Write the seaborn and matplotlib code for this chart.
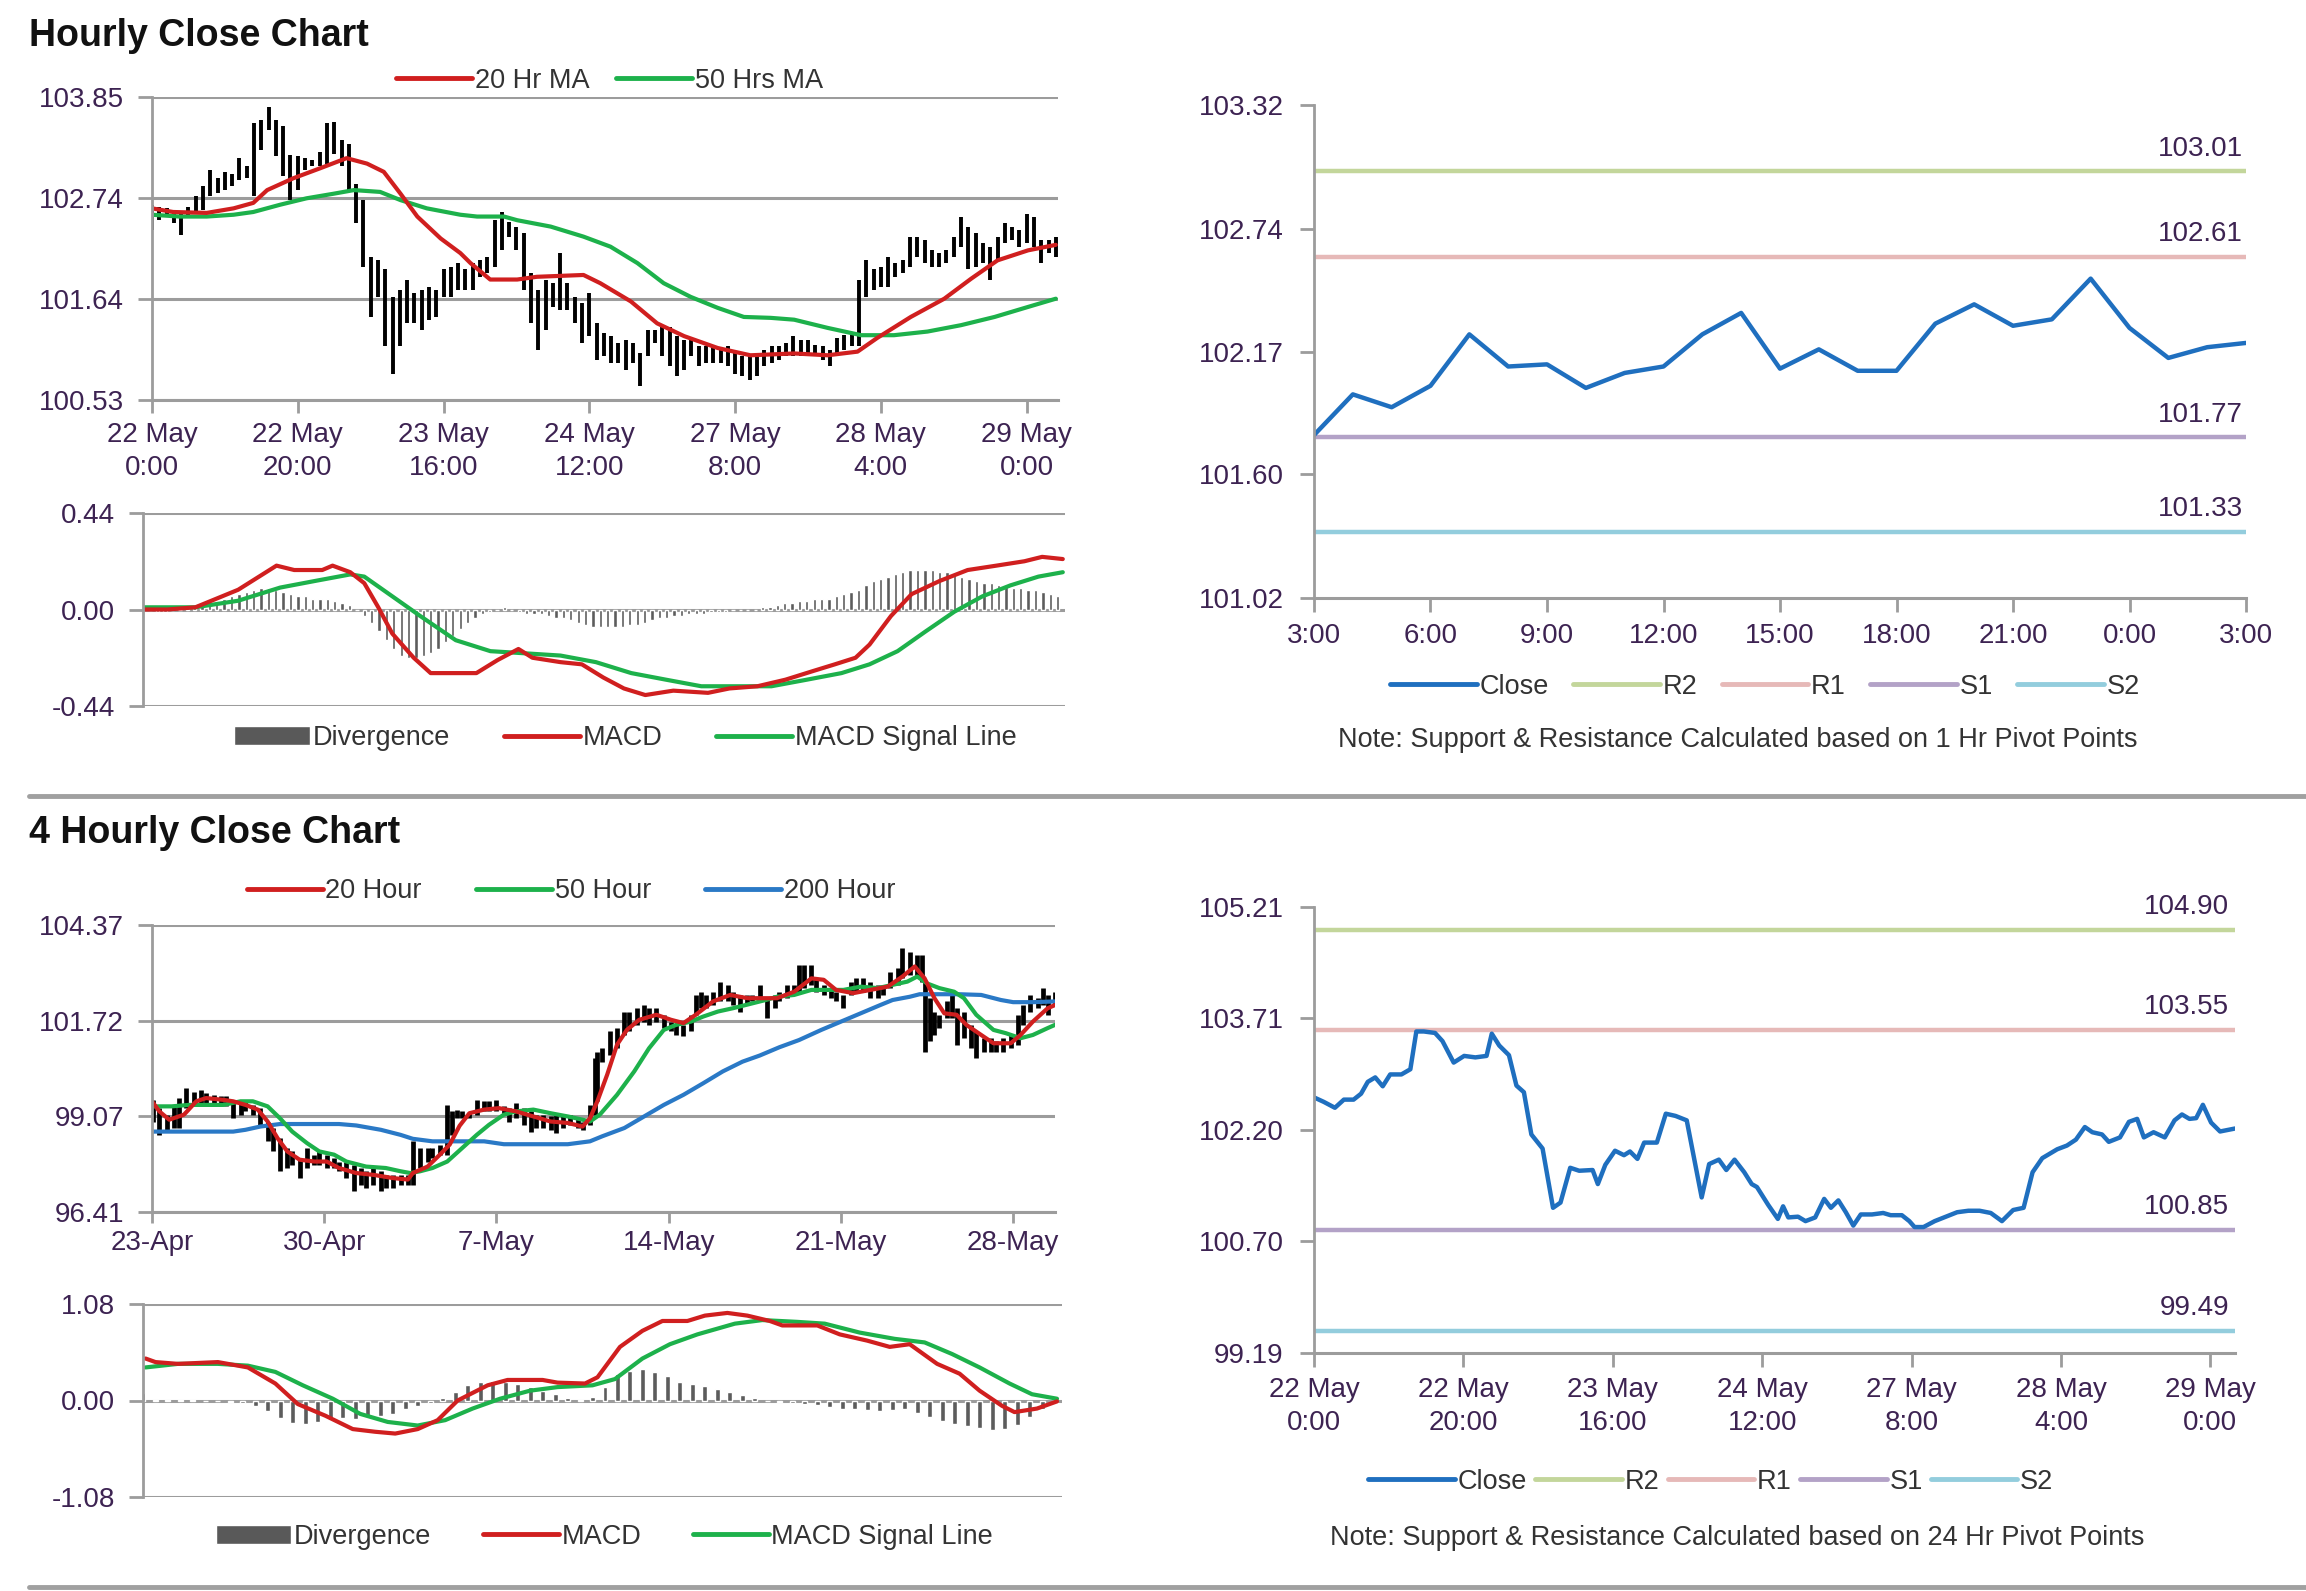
import numpy as np
import pandas as pd
import matplotlib
matplotlib.use('Agg')
import matplotlib.pyplot as plt
import seaborn as sns
from matplotlib.lines import Line2D
from matplotlib.patches import Patch

# ---------------- DATA ----------------
# Hourly chart (x = trading hour index from 22 May 0:00)
h_high = [102.67,102.65,102.63,102.61,102.58,102.65,102.76,102.87,103.05,102.96,
          103.03,103.01,103.18,103.09,103.56,103.60,103.74,103.60,103.53,103.21,
          103.20,103.18,103.16,103.25,103.56,103.58,103.38,103.34,102.90,102.72,
          102.10,102.06,101.96,101.66,101.74,101.85,101.70,101.74,101.77,101.74,
          101.96,101.99,102.03,101.96,102.03,102.06,102.10,102.50,102.59,102.48,
          102.43,102.36,101.92,101.74,101.85,101.81,102.14,101.81,101.66,101.59,
          101.70,101.37,101.26,101.23,101.15,101.19,101.15,101.04,101.30,101.30,
          101.33,101.33,101.23,101.19,101.19,101.12,101.12,101.12,101.08,101.12,
          101.04,101.01,101.01,101.04,101.08,101.12,101.12,101.15,101.23,101.19,
          101.19,101.13,101.12,101.08,101.21,101.24,101.26,101.85,102.06,101.96,
          101.99,102.10,102.03,102.06,102.32,102.32,102.28,102.17,102.14,102.17,
          102.32,102.54,102.43,102.36,102.25,102.21,102.32,102.47,102.43,102.39,
          102.57,102.54,102.28,102.28,102.32]
h_low = [102.39,102.50,102.56,102.47,102.34,102.56,102.59,102.61,102.76,102.80,
         102.83,102.87,102.94,102.96,102.76,103.27,103.49,103.20,102.98,102.72,
         102.83,103.05,103.09,103.09,103.12,103.23,103.09,102.83,102.47,101.99,
         101.44,101.66,101.12,100.82,101.12,101.37,101.37,101.30,101.41,101.44,
         101.66,101.66,101.74,101.74,101.74,101.88,101.92,101.99,102.17,102.32,
         102.17,101.74,101.37,101.08,101.30,101.55,101.52,101.52,101.37,101.15,
         101.23,100.97,101.01,100.93,100.93,100.86,100.93,100.68,101.01,101.15,
         101.01,100.90,100.79,100.86,101.01,100.90,100.93,100.93,100.93,100.90,
         100.82,100.79,100.75,100.79,100.90,100.93,100.97,101.01,101.01,101.01,
         101.01,101.01,100.97,100.90,101.01,101.08,101.12,101.12,101.66,101.74,
         101.77,101.77,101.88,101.92,101.99,102.10,102.03,101.99,101.99,102.03,
         102.10,102.21,101.96,101.99,102.03,101.85,102.06,102.25,102.28,102.21,
         102.25,102.21,102.03,102.14,102.10]

ma20_h_x = [0,2.9,7.5,11.2,13.9,15.8,19.4,23.1,26.7,29.5,31.8,34.1,36.4,39.6,42.3,43.7,46.4,50.1,
            52.8,59.2,61.5,65.7,69.3,73,77.6,82.1,88.1,92.7,96.8,99.5,104.1,108.7,112.4,116,120.2,124]
ma20_h_y = [102.63,102.59,102.58,102.63,102.69,102.83,102.96,103.07,103.18,103.12,103.03,102.79,
            102.54,102.30,102.14,102.03,101.85,101.85,101.88,101.90,101.81,101.61,101.37,101.23,
            101.10,101.02,101.04,101.02,101.06,101.21,101.44,101.64,101.86,102.06,102.17,102.23]
ma50_h_x = [0,3.8,7.5,11.2,13.9,17.6,21.2,24.9,27.7,31.3,34.1,37.7,42.3,44.6,48.3,50.1,54.7,59.2,
            62.9,66.6,70.2,73.9,77.6,81.2,84.9,88.1,92.7,97.3,101.8,106.4,111,115.6,120.2,124]
ma50_h_y = [102.56,102.54,102.54,102.56,102.59,102.67,102.74,102.79,102.83,102.81,102.72,102.63,
            102.56,102.54,102.54,102.50,102.43,102.32,102.21,102.03,101.81,101.66,101.54,101.44,
            101.43,101.41,101.32,101.24,101.24,101.28,101.35,101.44,101.55,101.64]

macd_h_x = [0,3.3,7.1,12.9,18.1,20.5,24.3,25.7,28.1,30,31.9,33.8,36.7,39,45.2,48.1,50.9,52.8,56.6,
            59.5,62.4,65.2,68.1,71.9,76.6,79.5,83.3,87.1,90.9,93.8,96.6,98.5,101.4,104.2,108,111.8,
            115.7,119.5,121.9,124.7]
macd_h_y = [0.00,0.00,0.01,0.09,0.20,0.18,0.18,0.20,0.17,0.12,0.01,-0.11,-0.22,-0.29,-0.29,-0.23,
            -0.18,-0.22,-0.24,-0.25,-0.31,-0.36,-0.39,-0.37,-0.38,-0.36,-0.35,-0.32,-0.28,-0.25,-0.22,
            -0.16,-0.03,0.07,0.13,0.18,0.20,0.22,0.24,0.23]
sig_h_x = [0,3.3,7.1,12.9,18.6,23.3,28.1,30,33.8,37.6,42.4,47.1,51.9,56.6,61.4,66.2,70.9,75.7,81.4,
           85.2,90,94.7,98.5,102.3,106.1,110,113.8,117.6,121.4,124.7]
sig_h_y = [0.01,0.01,0.01,0.04,0.10,0.13,0.16,0.15,0.06,-0.03,-0.14,-0.19,-0.20,-0.21,-0.24,-0.29,
           -0.32,-0.35,-0.35,-0.35,-0.32,-0.29,-0.25,-0.19,-0.10,-0.01,0.06,0.11,0.15,0.17]
div_h = [0.00,0.00,-0.01,-0.01,0.00,0.00,0.01,0.01,0.02,0.03,0.04,
         0.05,0.06,0.07,0.08,0.09,0.10,0.10,0.09,0.08,0.07,
         0.06,0.06,0.05,0.05,0.05,0.04,0.03,0.02,0.00,-0.03,
         -0.06,-0.10,-0.14,-0.18,-0.21,-0.22,-0.22,-0.21,-0.20,-0.18,
         -0.15,-0.12,-0.09,-0.06,-0.04,-0.02,-0.01,0.00,0.01,0.00,
         -0.01,-0.02,-0.02,-0.02,-0.03,-0.04,-0.04,-0.05,-0.06,-0.07,
         -0.08,-0.08,-0.08,-0.08,-0.08,-0.07,-0.07,-0.06,-0.05,-0.04,
         -0.04,-0.03,-0.03,-0.02,-0.02,-0.02,-0.01,-0.01,-0.01,0.00,
         0.00,0.00,0.00,0.01,0.01,0.02,0.03,0.03,0.04,0.04,
         0.05,0.05,0.05,0.06,0.07,0.08,0.09,0.11,0.13,0.14,
         0.15,0.16,0.17,0.18,0.18,0.18,0.18,0.17,0.17,0.16,
         0.15,0.14,0.13,0.12,0.12,0.11,0.11,0.10,0.10,0.09,
         0.09,0.08,0.07,0.06]

h_ticks = [0, 20, 40, 60, 80, 100, 120]
h_ticklabels = ['22 May\n0:00', '22 May\n20:00', '23 May\n16:00', '24 May\n12:00',
                '27 May\n8:00', '28 May\n4:00', '29 May\n0:00']

# Right-top: hourly close with 1 Hr pivots
r1_close = [101.78,101.97,101.91,102.01,102.25,102.10,102.11,102.00,102.07,102.10,102.25,102.35,
            102.09,102.18,102.08,102.08,102.30,102.39,102.29,102.32,102.51,102.28,102.14,102.19,102.21]
r1_tick_labels = ['3:00','6:00','9:00','12:00','15:00','18:00','21:00','0:00','3:00']
r1_levels = {'R2': 103.01, 'R1': 102.61, 'S1': 101.77, 'S2': 101.33}

# Right-bottom: close with 24 Hr pivots (hours from 22 May 0:00)
r2_hours = [0,1.3,2.8,4.0,5.3,6.3,7.2,8.2,9.2,10.2,11.7,12.9,13.7,14.7,16.2,17.2,18.7,20.1,21.6,23.1,
            23.8,24.8,26.1,27.1,28.1,29.1,30.6,32.0,33.0,34.3,35.5,37.3,38.0,39.0,40.3,41.5,42.3,43.3,
            44.2,45.9,47.1,48.4,49.9,51.9,52.9,54.2,55.2,56.3,57.6,58.6,59.3,60.8,62.1,62.8,63.5,64.8,
            65.8,67.1,68.3,69.2,70.2,71.2,72.2,73.2,74.7,76.2,77.2,78.7,79.7,80.4,81.6,83.1,84.6,86.1,
            87.6,89.1,90.6,92.1,93.6,95.0,96.2,97.5,98.5,99.5,100.8,102.0,103.2,104.2,105.5,106.4,
            107.9,109.1,110.2,111.1,112.4,113.9,115.2,116.2,117.2,118.1,119.0,120.1,121.3,123.3]
r2_close = [102.64,102.58,102.50,102.61,102.61,102.69,102.85,102.91,102.79,102.95,102.95,103.02,
            103.53,103.53,103.51,103.40,103.11,103.20,103.18,103.20,103.50,103.34,103.21,102.80,
            102.71,102.14,101.95,101.15,101.22,101.69,101.65,101.66,101.47,101.73,101.92,101.86,
            101.91,101.81,102.03,102.03,102.42,102.39,102.33,101.29,101.74,101.80,101.66,101.80,
            101.63,101.47,101.43,101.19,101.00,101.17,101.02,101.03,100.97,101.02,101.27,101.15,
            101.25,101.09,100.91,101.06,101.06,101.08,101.05,101.05,100.97,100.89,100.89,100.97,
            101.03,101.09,101.11,101.11,101.08,100.97,101.12,101.15,101.63,101.82,101.88,101.94,
            101.99,102.07,102.24,102.17,102.14,102.04,102.10,102.31,102.35,102.10,102.17,102.10,
            102.33,102.41,102.35,102.36,102.54,102.30,102.18,102.22]
r2_levels = {'R2': 104.90, 'R1': 103.55, 'S1': 100.85, 'S2': 99.49}

# 4 Hourly chart (x = days from 23-Apr)
f_days = [0.05,0.3,0.6,0.9,1.1,1.4,1.7,2.0,2.2,2.5,2.8,3.0,3.3,3.6,3.8,4.1,4.4,4.7,4.9,5.2,5.5,5.7,
          6.0,6.3,6.6,6.8,7.1,7.4,7.6,7.9,8.2,8.5,8.7,9.0,9.3,9.5,9.8,10.1,10.4,10.6,10.9,11.2,11.4,
          11.7,12.0,12.2,12.4,12.6,12.9,13.2,13.5,13.7,14.0,14.3,14.5,14.8,15.1,15.4,15.6,15.9,16.2,
          16.4,16.7,17.0,17.3,17.5,17.8,18.0,18.1,18.3,18.6,18.9,19.2,19.4,19.7,20.0,20.2,20.5,20.8,
          21.1,21.3,21.6,21.9,22.1,22.3,22.5,22.8,23.1,23.4,23.6,23.9,24.2,24.4,24.7,25.0,25.3,25.5,
          25.8,26.1,26.3,26.5,26.8,27.0,27.3,27.6,27.8,28.1,28.4,28.6,28.9,29.2,29.5,29.7,30.0,30.3,
          30.5,30.8,31.1,31.3,31.4,31.6,31.8,32.0,32.3,32.5,32.7,33.0,33.3,33.5,33.8,34.1,34.3,34.6,
          34.9,35.2,35.4,35.7,36.0,36.2,36.4,36.7]
f_high = [99.52,99.29,99.11,99.38,99.57,99.84,99.75,99.80,99.71,99.66,99.62,99.62,99.43,99.48,99.52,
          99.38,99.29,98.92,98.74,98.46,98.18,98.09,97.91,98.18,98.00,98.09,98.00,97.91,97.81,97.81,
          97.72,97.63,97.54,97.63,97.54,97.44,97.44,97.44,97.44,98.37,98.18,98.18,98.18,98.28,99.38,
          99.20,99.25,99.20,99.15,99.52,99.48,99.48,99.52,99.34,99.29,99.43,99.29,99.20,99.11,99.11,
          99.06,99.11,99.11,99.11,99.01,98.92,99.38,100.68,100.86,100.95,101.42,101.51,101.97,101.97,
          102.06,102.15,102.06,102.06,101.88,101.69,101.60,101.60,101.88,102.43,102.52,102.43,102.52,
          102.80,102.71,102.52,102.43,102.43,102.43,102.71,102.34,102.43,102.52,102.71,102.71,103.26,
          103.26,103.26,102.89,102.71,102.61,102.52,102.43,102.80,102.89,102.89,102.80,102.71,102.71,
          103.08,103.17,103.72,103.63,103.54,103.54,102.80,102.34,101.97,101.88,102.25,102.43,102.06,
          101.97,101.60,101.42,101.23,101.23,101.14,101.23,101.32,101.88,102.15,102.43,102.34,102.61,
          102.43,102.52]
f_low = [98.92,98.55,98.64,98.74,98.74,99.29,99.38,99.43,99.38,99.38,99.38,99.34,99.01,99.11,99.20,
         99.11,98.83,98.37,98.09,97.54,97.63,97.72,97.35,97.63,97.72,97.72,97.63,97.63,97.54,97.35,
         96.98,97.17,97.08,97.17,96.98,97.08,97.08,97.17,97.17,97.17,97.63,97.81,97.91,98.00,98.00,
         98.55,99.01,99.01,99.01,99.11,99.20,99.20,99.20,99.11,98.92,99.01,98.83,98.64,98.74,98.74,
         98.69,98.60,98.74,98.83,98.74,98.69,98.83,99.11,99.48,100.58,100.77,100.95,101.32,101.42,
         101.60,101.69,101.60,101.69,101.51,101.42,101.32,101.28,101.42,101.88,102.06,102.06,102.15,
         102.25,102.25,102.15,101.97,102.15,102.25,102.25,101.80,102.06,102.25,102.34,102.43,102.52,
         102.61,102.71,102.52,102.43,102.34,102.25,102.06,102.43,102.52,102.52,102.34,102.34,102.43,
         102.61,102.71,102.89,102.98,102.89,102.80,100.86,101.14,101.32,101.51,101.78,101.78,101.05,
         101.23,100.95,100.68,100.86,100.86,100.86,100.86,100.95,101.05,101.60,101.97,102.06,102.15,
         101.88,102.15]

ma20_f_x = [0,0.3,0.7,1.3,1.8,2.2,2.9,3.3,3.8,4.3,4.7,5.1,5.5,6.0,6.6,7.1,7.6,8.3,9.0,9.8,10.4,10.6,
            11.2,11.7,12.1,12.5,12.9,13.5,14.1,14.8,15.5,16.2,16.9,17.5,17.8,18.1,18.5,18.9,19.3,19.8,
            20.5,21.1,21.6,22.1,22.8,23.5,24.2,24.8,25.4,26.1,26.8,27.3,27.8,28.5,29.2,29.9,30.5,31.0,
            31.4,31.8,32.2,32.7,33.1,33.7,34.2,34.9,35.3,35.8,36.4,36.7]
ma20_f_y = [99.48,99.20,98.97,99.11,99.48,99.57,99.52,99.48,99.38,99.25,98.92,98.46,98.09,97.86,97.81,
            97.81,97.63,97.49,97.44,97.35,97.31,97.49,97.67,98.00,98.28,98.80,99.15,99.25,99.29,99.20,
            99.06,98.92,98.88,98.78,99.01,99.48,100.22,101.05,101.46,101.74,101.88,101.74,101.65,
            101.88,102.25,102.43,102.34,102.34,102.34,102.52,102.89,102.85,102.57,102.48,102.57,102.66,
            102.94,103.22,102.89,102.34,101.92,101.88,101.60,101.32,101.09,101.09,101.32,101.69,102.06,
            102.15]
ma50_f_x = [0,0.8,1.5,2.2,2.9,3.6,4.1,4.7,5.2,5.7,6.3,6.8,7.4,7.9,8.7,9.5,10.1,10.5,10.9,11.4,12.0,
            12.6,13.2,13.7,14.3,14.8,15.5,16.2,16.9,17.5,17.8,18.2,18.9,19.6,20.2,20.8,21.3,21.9,22.4,
            23.0,23.6,24.3,25.0,25.4,26.1,26.8,27.4,28.1,28.8,29.5,30.1,30.7,31.1,31.5,32.0,32.6,33.0,
            33.5,34.2,34.7,35.3,35.8,36.4,36.7]
ma50_f_y = [99.34,99.34,99.38,99.38,99.38,99.48,99.48,99.34,99.01,98.64,98.32,98.09,98.00,97.81,97.67,
            97.63,97.54,97.49,97.54,97.63,97.81,98.18,98.55,98.83,99.11,99.20,99.25,99.15,99.06,98.97,
            98.92,99.11,99.66,100.31,100.95,101.46,101.60,101.69,101.83,101.97,102.06,102.18,102.30,
            102.38,102.43,102.57,102.57,102.57,102.66,102.62,102.71,102.80,102.94,102.75,102.62,102.52,
            102.34,101.88,101.46,101.37,101.23,101.32,101.51,101.60]
ma200_f_x = [0,1.5,3.3,3.8,4.4,5.2,6.3,7.6,8.3,9.3,10.1,10.6,11.4,12.5,13.5,14.3,15.5,16.9,17.8,18.3,
             19.2,20.0,20.8,21.6,22.4,23.2,24.0,24.7,25.5,26.3,27.2,28.0,28.8,29.6,30.1,30.8,31.2,
             32.0,32.8,33.7,34.5,35.0,35.8,36.7]
ma200_f_y = [98.64,98.64,98.64,98.69,98.78,98.85,98.85,98.85,98.81,98.69,98.55,98.44,98.37,98.37,
             98.37,98.29,98.29,98.29,98.37,98.51,98.74,99.06,99.38,99.66,99.98,100.31,100.58,100.75,
             100.98,101.18,101.46,101.69,101.92,102.15,102.29,102.38,102.45,102.45,102.45,102.43,
             102.29,102.23,102.23,102.25]

macd_f_x = [0.1,0.5,1.4,3.0,4.2,5.3,6.2,7.3,8.4,9.3,10.1,11.0,11.8,12.6,13.8,14.6,16.0,16.6,17.7,18.2,
            19.1,20.0,20.8,21.8,22.5,23.4,24.2,25.1,25.6,27.0,27.9,29.0,29.9,30.7,31.8,32.7,33.5,34.4,
            34.9,35.8,36.6]
macd_f_y = [0.47,0.43,0.41,0.43,0.37,0.19,-0.04,-0.17,-0.32,-0.35,-0.37,-0.32,-0.22,0.00,0.17,0.23,
            0.23,0.20,0.19,0.26,0.60,0.78,0.89,0.89,0.95,0.98,0.95,0.89,0.84,0.84,0.74,0.67,0.60,0.63,
            0.41,0.30,0.11,-0.06,-0.13,-0.09,-0.01]
sig_f_x = [0.1,1.4,3.0,4.2,5.3,6.4,7.6,8.7,9.8,11.0,12.1,13.2,14.3,15.5,16.6,18.0,18.9,20.0,21.1,22.2,
           23.7,24.8,26.2,27.3,28.7,30.1,31.3,32.4,33.5,34.7,35.6,36.6]
sig_f_y = [0.37,0.41,0.41,0.39,0.32,0.17,0.02,-0.15,-0.24,-0.28,-0.22,-0.09,0.02,0.11,0.15,0.17,0.24,
           0.47,0.63,0.74,0.86,0.90,0.88,0.86,0.76,0.69,0.65,0.52,0.37,0.19,0.07,0.02]
div_f = [0.08,0.01,0.01,0.01,0.01,0.00,0.00,-0.02,-0.03,-0.06,-0.12,-0.20,-0.25,-0.26,-0.24,-0.22,
         -0.20,-0.21,-0.19,-0.17,-0.15,-0.10,-0.06,-0.03,0.03,0.10,0.17,0.21,0.22,0.21,0.18,0.15,
         0.11,0.07,0.03,0.01,0.04,0.15,0.30,0.33,0.35,0.32,0.27,0.21,0.18,0.16,0.13,0.10,0.06,0.03,
         -0.01,-0.02,-0.03,-0.04,-0.05,-0.07,-0.09,-0.10,-0.11,-0.12,-0.11,-0.10,-0.14,-0.19,-0.23,
         -0.26,-0.29,-0.31,-0.33,-0.32,-0.27,-0.18,-0.09,-0.03]
div_f_step = 0.5

f_ticks = [0, 7, 14, 21, 28, 35]
f_ticklabels = ['23-Apr', '30-Apr', '7-May', '14-May', '21-May', '28-May']

# ---------------- STYLE ----------------
sns.set_theme(style='white')
plt.rcParams['font.family'] = ['Liberation Sans', 'DejaVu Sans']

RED = '#D01F1F'
GREEN = '#1DB14B'
BLUE = '#2A79C6'
CLOSE = '#1F6FBF'
LVL_COL = {'R2': '#C3D69B', 'R1': '#E6B9B8', 'S1': '#B3A2C7', 'S2': '#93CDDD'}
GRID = '#9C9C9C'
LAB = '#3D2352'
DIVC = '#5C5C5C'
FS = 20
LFS = 19.5

W, H = 2306, 1591
fig = plt.figure(figsize=(W / 100, H / 100), dpi=100)


def px_axes(x0, y0, x1, y1):
    return fig.add_axes([x0 / W, 1 - y1 / H, (x1 - x0) / W, (y1 - y0) / H])


def style(ax, yt, ylab, grid=True, bottom=True, ypad=10):
    ax.set_yticks(yt)
    ax.set_yticklabels(ylab)
    ax.set_ylim(yt[0], yt[-1])
    for s in ['top', 'right']:
        ax.spines[s].set_visible(False)
    ax.spines['left'].set_color(GRID)
    ax.spines['left'].set_linewidth(2)
    ax.spines['bottom'].set_color(GRID)
    ax.spines['bottom'].set_linewidth(2.2)
    ax.spines['bottom'].set_visible(bottom)
    if grid:
        ax.yaxis.grid(True, color=GRID, lw=2.2)
        ax.set_axisbelow(True)
    ax.tick_params(axis='y', left=True, direction='out', length=10, width=2, color=GRID,
                   labelsize=FS, labelcolor=LAB, pad=ypad)
    ax.set_xlabel('')
    ax.set_ylabel('')


def xstyle(ax, ticks, labels, length, pad, ls=1.35):
    ax.set_xticks(ticks)
    ax.set_xticklabels(labels)
    ax.tick_params(axis='x', bottom=True, direction='out', length=length, width=2, color=GRID,
                   labelsize=FS, labelcolor=LAB, pad=pad)
    for t in ax.get_xticklabels():
        t.set_linespacing(ls)


def line(ax, x, y, color, lw=3.0):
    sns.lineplot(x=x, y=y, ax=ax, color=color, linewidth=lw, estimator=None, legend=False)


# ---------------- Titles / separators ----------------
fig.text(29 / W, 1 - 36 / H, 'Hourly Close Chart', fontsize=27, fontweight='bold',
         ha='left', va='center', color='#111111')
fig.text(29 / W, 1 - 833 / H, '4 Hourly Close Chart', fontsize=27, fontweight='bold',
         ha='left', va='center', color='#111111')
for yy in (796, 1587):
    fig.add_artist(Line2D([29 / W, 1.0], [1 - yy / H, 1 - yy / H], color='#A0A0A0', lw=3.5,
                          transform=fig.transFigure))

# ---------------- A1: hourly bars ----------------
a1 = px_axes(152, 97, 1058, 400)
hx = np.arange(len(h_high))
a1.vlines(hx, h_low, h_high, color='black', lw=2.8, zorder=2)
line(a1, ma50_h_x, ma50_h_y, GREEN)
line(a1, ma20_h_x, ma20_h_y, RED)
style(a1, [100.53, 101.64, 102.74, 103.85], ['100.53', '101.64', '102.74', '103.85'])
a1.set_xlim(0, 124.3)
xstyle(a1, h_ticks, h_ticklabels, 9, 7)
a1.legend([Line2D([], [], color=RED, lw=3.5), Line2D([], [], color=GREEN, lw=3.5)],
          ['20 Hr MA', '50 Hrs MA'], loc='center', bbox_to_anchor=(0.505, 1.053), ncol=2,
          frameon=False, fontsize=LFS, handlelength=2.8, handletextpad=0.1, columnspacing=1.0,
          labelcolor='#333333')

# ---------------- A2: hourly MACD ----------------
a2 = px_axes(143, 513, 1065, 706)
a2.bar(np.arange(len(div_h)), div_h, width=0.45, color=DIVC, zorder=2)
line(a2, sig_h_x, sig_h_y, GREEN)
line(a2, macd_h_x, macd_h_y, RED)
style(a2, [-0.44, 0.0, 0.44], ['-0.44', '0.00', '0.44'], bottom=False)
a2.set_xlim(0, 125)
a2.set_xticks([])
a2.legend([Patch(facecolor='#595959'), Line2D([], [], color=RED, lw=3.5),
           Line2D([], [], color=GREEN, lw=3.5)],
          ['Divergence', 'MACD', 'MACD Signal Line'], loc='center', bbox_to_anchor=(0.523, -0.166),
          ncol=3, frameon=False, fontsize=LFS, handlelength=2.8, handletextpad=0.1,
          columnspacing=2.0, labelcolor='#333333')

# ---------------- A3: right-top close ----------------
a3 = px_axes(1314, 105, 2246, 598)
line(a3, np.arange(len(r1_close)), r1_close, CLOSE, lw=3.2)
lvl_handles = [Line2D([], [], color=CLOSE, lw=3.5)]
for k, v in r1_levels.items():
    a3.axhline(v, color=LVL_COL[k], lw=3.2, zorder=1)
    a3.annotate(f'{v:.2f}', xy=(1.0, v), xycoords=('axes fraction', 'data'), xytext=(-2, 7),
                textcoords='offset points', ha='right', va='bottom', fontsize=FS, color=LAB)
    lvl_handles.append(Line2D([], [], color=LVL_COL[k], lw=3.5))
style(a3, [101.02, 101.60, 102.17, 102.74, 103.32],
      ['101.02', '101.60', '102.17', '102.74', '103.32'], grid=False, ypad=12)
a3.set_xlim(0, 24)
xstyle(a3, range(0, 25, 3), r1_tick_labels, 10, 8)
a3.legend(lvl_handles, ['Close', 'R2', 'R1', 'S1', 'S2'], loc='center',
          bbox_to_anchor=(0.484, -0.18), ncol=5, frameon=False, fontsize=LFS, handlelength=3.2,
          handletextpad=0.1, columnspacing=0.9, labelcolor='#333333')
fig.text(1738 / W, 1 - 740 / H, 'Note: Support & Resistance Calculated based on 1 Hr Pivot Points',
         fontsize=19.5, ha='center', va='center', color='#333333')

# ---------------- A4: 4-hourly bars ----------------
a4 = px_axes(152, 925, 1055, 1212)
a4.vlines(f_days, f_low, f_high, color='black', lw=3.4, zorder=2)
line(a4, ma200_f_x, ma200_f_y, BLUE)
line(a4, ma50_f_x, ma50_f_y, GREEN)
line(a4, ma20_f_x, ma20_f_y, RED)
style(a4, [96.41, 99.07, 101.72, 104.37], ['96.41', '99.07', '101.72', '104.37'])
a4.set_xlim(0, 36.7)
xstyle(a4, f_ticks, f_ticklabels, 8, 5)
a4.legend([Line2D([], [], color=RED, lw=3.5), Line2D([], [], color=GREEN, lw=3.5),
           Line2D([], [], color=BLUE, lw=3.5)],
          ['20 Hour', '50 Hour', '200 Hour'], loc='center', bbox_to_anchor=(0.464, 1.118), ncol=3,
          frameon=False, fontsize=LFS, handlelength=2.8, handletextpad=0.1, columnspacing=2.0,
          labelcolor='#333333')

# ---------------- A5: 4-hourly MACD ----------------
a5 = px_axes(143, 1304, 1062, 1497)
a5.bar(np.arange(len(div_f)) * div_f_step, div_f, width=0.2, color=DIVC, zorder=2)
line(a5, sig_f_x, sig_f_y, GREEN)
line(a5, macd_f_x, macd_f_y, RED)
style(a5, [-1.08, 0.0, 1.08], ['-1.08', '0.00', '1.08'], bottom=False)
a5.set_xlim(0, 36.8)
a5.set_xticks([])
a5.legend([Patch(facecolor='#595959'), Line2D([], [], color=RED, lw=3.5),
           Line2D([], [], color=GREEN, lw=3.5)],
          ['Divergence', 'MACD', 'MACD Signal Line'], loc='center', bbox_to_anchor=(0.502, -0.207),
          ncol=3, frameon=False, fontsize=LFS, handlelength=2.8, handletextpad=0.1,
          columnspacing=1.9, labelcolor='#333333')

# ---------------- A6: right-bottom close ----------------
a6 = px_axes(1314, 907, 2235, 1353)
line(a6, r2_hours, r2_close, CLOSE, lw=3.2)
lvl_handles = [Line2D([], [], color=CLOSE, lw=3.5)]
for k, v in r2_levels.items():
    a6.axhline(v, color=LVL_COL[k], lw=3.2, zorder=1)
    a6.annotate(f'{v:.2f}', xy=(1.0, v), xycoords=('axes fraction', 'data'), xytext=(-4, 7),
                textcoords='offset points', ha='right', va='bottom', fontsize=FS, color=LAB)
    lvl_handles.append(Line2D([], [], color=LVL_COL[k], lw=3.5))
style(a6, [99.19, 100.70, 102.20, 103.71, 105.21],
      ['99.19', '100.70', '102.20', '103.71', '105.21'], grid=False, ypad=12)
a6.set_xlim(0, 123.3)
xstyle(a6, h_ticks, h_ticklabels, 10, 7)
a6.legend(lvl_handles, ['Close', 'R2', 'R1', 'S1', 'S2'], loc='center',
          bbox_to_anchor=(0.431, -0.289), ncol=5, frameon=False, fontsize=LFS, handlelength=3.2,
          handletextpad=0.1, columnspacing=0.3, labelcolor='#333333')
fig.text(1737 / W, 1 - 1538 / H, 'Note: Support & Resistance Calculated based on 24 Hr Pivot Points',
         fontsize=19.5, ha='center', va='center', color='#333333')

fig.savefig('out.png', dpi=100, facecolor='white')
